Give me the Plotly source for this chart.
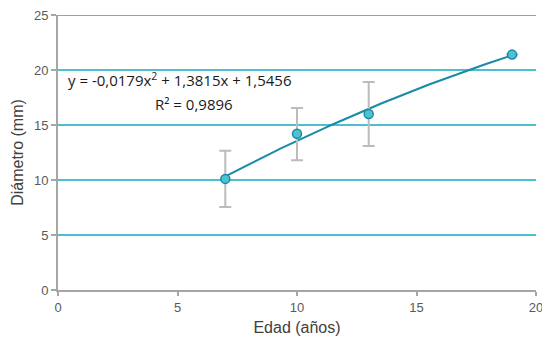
import numpy as np
import plotly.graph_objects as go

# Mean diameter by age, with spread
edad = [7, 10, 13, 19]
diametro = [10.1, 14.2, 16.0, 21.4]
error_sup = [2.55, 2.35, 2.9, 0]
error_inf = [2.55, 2.4, 2.9, 0]

# Second-order polynomial trendline coefficients
coef_a, coef_b, coef_c = -0.0179, 1.3815, 1.5456
ecuacion = "y = -0,0179x<sup>2</sup> + 1,3815x + 1,5456"
r2_texto = "R² = 0,9896"

x_tend = np.linspace(min(edad), max(edad), 100)
y_tend = coef_a * x_tend**2 + coef_b * x_tend + coef_c

fig = go.Figure()

fig.add_trace(go.Scatter(
    x=x_tend, y=y_tend, mode="lines",
    line=dict(color="#1a8ba6", width=2),
    hoverinfo="skip", showlegend=False,
))

fig.add_trace(go.Scatter(
    x=edad, y=diametro, mode="markers",
    marker=dict(size=9, color="#4cc2d2", line=dict(color="#1d8aa5", width=1.5)),
    error_y=dict(type="data", symmetric=False, array=error_sup, arrayminus=error_inf,
                 color="#bcbcbc", thickness=2, width=6),
    showlegend=False,
))

# Trendline equation label
eq_font = dict(family="Open Sans, Liberation Sans", size=15, color="#1a1a1a")
fig.add_annotation(x=(179 - 58) / 478, y=1 - (80 - 15) / 275, xref="paper", yref="paper",
                   xanchor="center", yanchor="middle",
                   text=ecuacion, showarrow=False, font=eq_font)
fig.add_annotation(x=(194 - 58) / 478, y=1 - (104 - 15) / 275, xref="paper", yref="paper",
                   xanchor="center", yanchor="middle",
                   text=r2_texto, showarrow=False, font=eq_font)

# Top gridline at the edge of the range
fig.add_shape(type="line", xref="paper", yref="y", x0=0, x1=1, y0=25, y1=25,
              line=dict(color="#4dbfd0", width=2), layer="below")

fig.update_layout(
    width=542, height=344,
    margin=dict(l=58, r=6, t=15, b=54),
    plot_bgcolor="white", paper_bgcolor="white",
    font=dict(family="Liberation Sans, Arial", color="#595959"),
)

fig.update_xaxes(
    range=[0, 20], tickvals=[0, 5, 10, 15, 20], showgrid=False, zeroline=False,
    showline=True, linecolor="#a6a6a6", linewidth=2,
    ticks="outside", ticklen=4, tickcolor="#a6a6a6", tickwidth=1.5,
    tickfont=dict(size=13, color="#595959"), ticklabeloverflow="allow",
    automargin=False,
    title=dict(text="Edad (años)", font=dict(size=16, color="#404040"), standoff=8),
)
fig.update_yaxes(
    range=[0, 25], tickvals=[0, 5, 10, 15, 20, 25], showgrid=True,
    gridcolor="#4dbfd0", gridwidth=2, zeroline=False,
    showline=True, linecolor="#a6a6a6", linewidth=2,
    ticks="outside", ticklen=5, tickcolor="#a6a6a6", tickwidth=1.5,
    tickfont=dict(size=13, color="#595959"), automargin=False,
    title=dict(text="Diámetro (mm)", font=dict(size=16, color="#404040"), standoff=6),
)

fig.write_html("out.html")
